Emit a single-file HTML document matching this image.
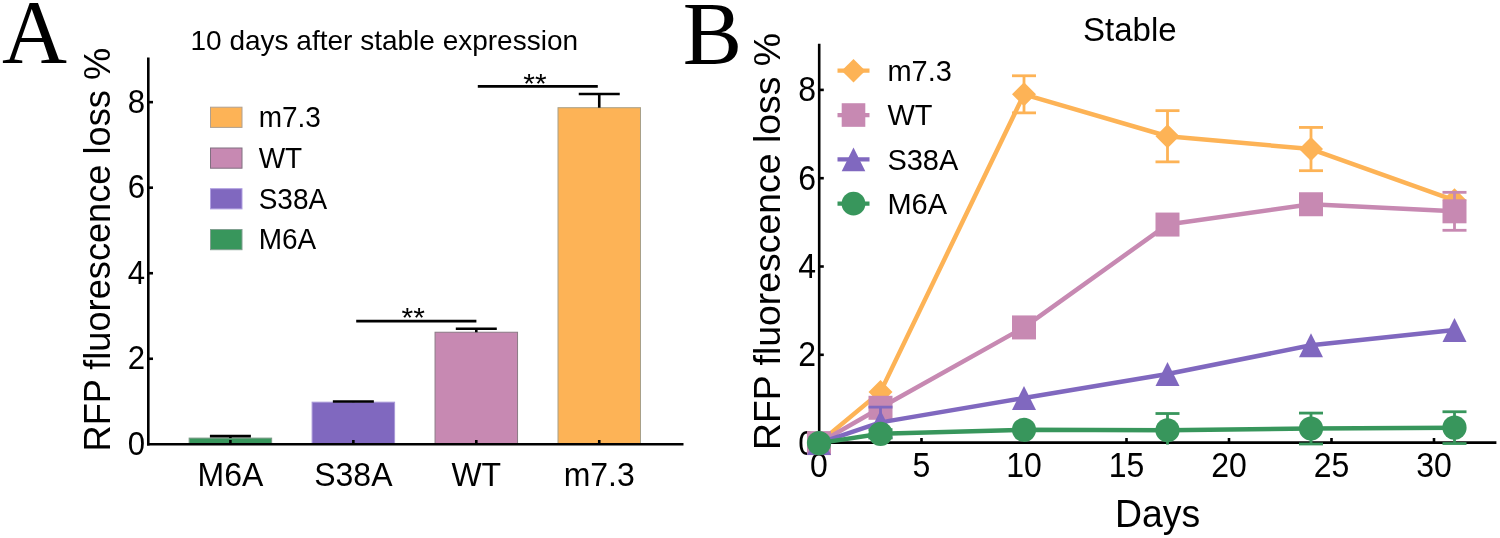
<!DOCTYPE html>
<html><head><meta charset="utf-8"><style>
html,body{margin:0;padding:0;background:#fff;width:1500px;height:538px;overflow:hidden}
svg{display:block;will-change:transform}
text{font-family:"Liberation Sans",sans-serif;fill:#000}
</style></head><body>
<svg width="1500" height="538" viewBox="0 0 1500 538">
<rect width="1500" height="538" fill="#fff"/>
<text transform="translate(2.00,63.00)" font-size="90" style="font-family:&quot;Liberation Serif&quot;,serif">A</text>
<text transform="translate(190.50,50.30)" font-size="28">10 days after stable expression</text>
<text transform="translate(110.30,451.50) rotate(-90)" font-size="36.2">RFP fluorescence loss %</text>
<rect x="189.15" y="438.10" width="82.5" height="6.20" fill="#38965C" stroke="#7a9a85" stroke-width="1"/>
<line x1="230.40" y1="436.17" x2="230.40" y2="438.10" stroke="#000" stroke-width="2.6"/>
<line x1="209.90" y1="436.17" x2="250.90" y2="436.17" stroke="#000" stroke-width="2.6"/>
<rect x="312.10" y="402.17" width="82.5" height="42.13" fill="#8068BF" stroke="#a898d8" stroke-width="1"/>
<line x1="353.35" y1="401.53" x2="353.35" y2="402.17" stroke="#000" stroke-width="2.6"/>
<line x1="332.85" y1="401.53" x2="373.85" y2="401.53" stroke="#000" stroke-width="2.6"/>
<rect x="435.05" y="332.24" width="82.5" height="112.06" fill="#C789B2" stroke="#8a7a85" stroke-width="1"/>
<line x1="476.30" y1="328.82" x2="476.30" y2="332.24" stroke="#000" stroke-width="2.6"/>
<line x1="455.80" y1="328.82" x2="496.80" y2="328.82" stroke="#000" stroke-width="2.6"/>
<rect x="558.00" y="107.70" width="82.5" height="336.60" fill="#FDB356" stroke="#a8a088" stroke-width="1"/>
<line x1="599.25" y1="94.01" x2="599.25" y2="107.70" stroke="#000" stroke-width="2.6"/>
<line x1="578.75" y1="94.01" x2="619.75" y2="94.01" stroke="#000" stroke-width="2.6"/>
<line x1="148.3" y1="57.5" x2="148.3" y2="445.6" stroke="#000" stroke-width="2.6"/>
<line x1="147" y1="444.3" x2="683.5" y2="444.3" stroke="#000" stroke-width="2.6"/>
<text transform="translate(145.00,454.70) scale(0.975,1.06)" font-size="32" text-anchor="end">0</text>
<line x1="148" y1="358.76" x2="153" y2="358.76" stroke="#000" stroke-width="2.6"/>
<text transform="translate(145.00,369.16) scale(0.975,1.06)" font-size="32" text-anchor="end">2</text>
<line x1="148" y1="273.22" x2="153" y2="273.22" stroke="#000" stroke-width="2.6"/>
<text transform="translate(145.00,283.62) scale(0.975,1.06)" font-size="32" text-anchor="end">4</text>
<line x1="148" y1="187.68" x2="153" y2="187.68" stroke="#000" stroke-width="2.6"/>
<text transform="translate(145.00,198.08) scale(0.975,1.06)" font-size="32" text-anchor="end">6</text>
<line x1="148" y1="102.14" x2="153" y2="102.14" stroke="#000" stroke-width="2.6"/>
<text transform="translate(145.00,112.54) scale(0.975,1.06)" font-size="32" text-anchor="end">8</text>
<line x1="230.40" y1="444" x2="230.40" y2="440" stroke="#000" stroke-width="2.6"/>
<text transform="translate(230.40,485.50) scale(1.0,1.045)" font-size="32" text-anchor="middle">M6A</text>
<line x1="353.35" y1="444" x2="353.35" y2="440" stroke="#000" stroke-width="2.6"/>
<text transform="translate(353.35,485.50) scale(1.0,1.045)" font-size="32" text-anchor="middle">S38A</text>
<line x1="476.30" y1="444" x2="476.30" y2="440" stroke="#000" stroke-width="2.6"/>
<text transform="translate(476.30,485.50) scale(1.0,1.045)" font-size="32" text-anchor="middle">WT</text>
<line x1="599.25" y1="444" x2="599.25" y2="440" stroke="#000" stroke-width="2.6"/>
<text transform="translate(599.25,485.50) scale(1.0,1.045)" font-size="32" text-anchor="middle">m7.3</text>
<line x1="356.2" y1="321.2" x2="476.4" y2="321.2" stroke="#000" stroke-width="2.8"/>
<text transform="translate(413.20,327.30) scale(1.07,1.0)" font-size="28" text-anchor="middle">**</text>
<line x1="477.8" y1="86.4" x2="597.8" y2="86.4" stroke="#000" stroke-width="2.8"/>
<text transform="translate(535.00,92.50) scale(1.07,1.0)" font-size="28" text-anchor="middle">**</text>
<rect x="210.5" y="107.20" width="31.5" height="20.2" fill="#FDB356" stroke="#b0a090" stroke-width="1"/>
<text transform="translate(258.70,127.00) scale(1.0,1.045)" font-size="28">m7.3</text>
<rect x="210.5" y="148.00" width="31.5" height="20.2" fill="#C789B2" stroke="#807080" stroke-width="1"/>
<text transform="translate(258.70,167.80) scale(1.0,1.045)" font-size="28">WT</text>
<rect x="210.5" y="188.70" width="31.5" height="20.2" fill="#8068BF" stroke="#b0a0e0" stroke-width="1"/>
<text transform="translate(258.70,208.50) scale(1.0,1.045)" font-size="28">S38A</text>
<rect x="210.5" y="229.50" width="31.5" height="20.2" fill="#38965C" stroke="#80a090" stroke-width="1"/>
<text transform="translate(258.70,249.30) scale(1.0,1.045)" font-size="28">M6A</text>
<text transform="translate(682.80,63.00)" font-size="89" style="font-family:&quot;Liberation Serif&quot;,serif">B</text>
<text transform="translate(1129.80,40.80)" font-size="33" text-anchor="middle">Stable</text>
<text transform="translate(780.30,450.00) rotate(-90)" font-size="37.4">RFP fluorescence loss %</text>
<text transform="translate(1157.50,526.90) scale(1.0,1.015)" font-size="37.4" text-anchor="middle">Days</text>
<line x1="819.2" y1="43.8" x2="819.2" y2="443.9" stroke="#000" stroke-width="2.6"/>
<line x1="818" y1="442.6" x2="1496.4" y2="442.6" stroke="#000" stroke-width="2.6"/>
<text transform="translate(816.00,454.50) scale(1.0,1.08)" font-size="32" text-anchor="end">0</text>
<line x1="819" y1="354.80" x2="823.8" y2="354.80" stroke="#000" stroke-width="2.6"/>
<text transform="translate(816.00,366.20) scale(1.0,1.08)" font-size="32" text-anchor="end">2</text>
<line x1="819" y1="266.50" x2="823.8" y2="266.50" stroke="#000" stroke-width="2.6"/>
<text transform="translate(816.00,277.90) scale(1.0,1.08)" font-size="32" text-anchor="end">4</text>
<line x1="819" y1="178.20" x2="823.8" y2="178.20" stroke="#000" stroke-width="2.6"/>
<text transform="translate(816.00,189.60) scale(1.0,1.08)" font-size="32" text-anchor="end">6</text>
<line x1="819" y1="89.90" x2="823.8" y2="89.90" stroke="#000" stroke-width="2.6"/>
<text transform="translate(816.00,101.30) scale(1.0,1.08)" font-size="32" text-anchor="end">8</text>
<text transform="translate(819.00,477.00) scale(1.0,1.08)" font-size="32" text-anchor="middle">0</text>
<line x1="921.50" y1="442.5" x2="921.50" y2="438" stroke="#000" stroke-width="2.6"/>
<text transform="translate(921.50,477.00) scale(1.0,1.08)" font-size="32" text-anchor="middle">5</text>
<line x1="1024.00" y1="442.5" x2="1024.00" y2="438" stroke="#000" stroke-width="2.6"/>
<text transform="translate(1024.00,477.00) scale(1.0,1.08)" font-size="32" text-anchor="middle">10</text>
<line x1="1126.50" y1="442.5" x2="1126.50" y2="438" stroke="#000" stroke-width="2.6"/>
<text transform="translate(1126.50,477.00) scale(1.0,1.08)" font-size="32" text-anchor="middle">15</text>
<line x1="1229.00" y1="442.5" x2="1229.00" y2="438" stroke="#000" stroke-width="2.6"/>
<text transform="translate(1229.00,477.00) scale(1.0,1.08)" font-size="32" text-anchor="middle">20</text>
<line x1="1331.50" y1="442.5" x2="1331.50" y2="438" stroke="#000" stroke-width="2.6"/>
<text transform="translate(1331.50,477.00) scale(1.0,1.08)" font-size="32" text-anchor="middle">25</text>
<line x1="1434.00" y1="442.5" x2="1434.00" y2="438" stroke="#000" stroke-width="2.6"/>
<text transform="translate(1434.00,477.00) scale(1.0,1.08)" font-size="32" text-anchor="middle">30</text>
<polyline points="819.00,443.10 880.50,391.89 1024.00,94.31 1167.50,136.26 1311.00,149.06 1454.50,200.28" fill="none" stroke="#FDB356" stroke-width="4.5" stroke-linejoin="round"/>
<path d="M819.00 431.10L831.00 443.10L819.00 455.10L807.00 443.10Z" fill="#FDB356"/>
<path d="M880.50 379.89L892.50 391.89L880.50 403.89L868.50 391.89Z" fill="#FDB356"/>
<line x1="1024.00" y1="75.77" x2="1024.00" y2="112.86" stroke="#FDB356" stroke-width="2.8"/>
<line x1="1012.00" y1="75.77" x2="1036.00" y2="75.77" stroke="#FDB356" stroke-width="2.8"/>
<line x1="1012.00" y1="112.86" x2="1036.00" y2="112.86" stroke="#FDB356" stroke-width="2.8"/>
<path d="M1024.00 82.31L1036.00 94.31L1024.00 106.31L1012.00 94.31Z" fill="#FDB356"/>
<line x1="1167.50" y1="110.65" x2="1167.50" y2="161.86" stroke="#FDB356" stroke-width="2.8"/>
<line x1="1155.50" y1="110.65" x2="1179.50" y2="110.65" stroke="#FDB356" stroke-width="2.8"/>
<line x1="1155.50" y1="161.86" x2="1179.50" y2="161.86" stroke="#FDB356" stroke-width="2.8"/>
<path d="M1167.50 124.26L1179.50 136.26L1167.50 148.26L1155.50 136.26Z" fill="#FDB356"/>
<line x1="1311.00" y1="127.43" x2="1311.00" y2="170.69" stroke="#FDB356" stroke-width="2.8"/>
<line x1="1299.00" y1="127.43" x2="1323.00" y2="127.43" stroke="#FDB356" stroke-width="2.8"/>
<line x1="1299.00" y1="170.69" x2="1323.00" y2="170.69" stroke="#FDB356" stroke-width="2.8"/>
<path d="M1311.00 137.06L1323.00 149.06L1311.00 161.06L1299.00 149.06Z" fill="#FDB356"/>
<path d="M1454.50 188.28L1466.50 200.28L1454.50 212.28L1442.50 200.28Z" fill="#FDB356"/>
<polyline points="819.00,443.10 880.50,407.78 1024.00,327.43 1167.50,224.56 1311.00,204.25 1454.50,211.31" fill="none" stroke="#C789B2" stroke-width="4.5" stroke-linejoin="round"/>
<rect x="807.00" y="431.10" width="24" height="24" fill="#C789B2"/>
<rect x="868.50" y="395.78" width="24" height="24" fill="#C789B2"/>
<rect x="1012.00" y="315.43" width="24" height="24" fill="#C789B2"/>
<rect x="1155.50" y="212.56" width="24" height="24" fill="#C789B2"/>
<rect x="1299.00" y="192.25" width="24" height="24" fill="#C789B2"/>
<line x1="1454.50" y1="192.33" x2="1454.50" y2="230.30" stroke="#C789B2" stroke-width="2.8"/>
<line x1="1442.50" y1="192.33" x2="1466.50" y2="192.33" stroke="#C789B2" stroke-width="2.8"/>
<line x1="1442.50" y1="230.30" x2="1466.50" y2="230.30" stroke="#C789B2" stroke-width="2.8"/>
<rect x="1442.50" y="199.31" width="24" height="24" fill="#C789B2"/>
<polyline points="819.00,443.10 880.50,422.35 1024.00,398.07 1167.50,374.01 1311.00,345.31 1454.50,330.08" fill="none" stroke="#8068BF" stroke-width="4.5" stroke-linejoin="round"/>
<path d="M819.00 431.10L831.00 455.10L807.00 455.10Z" fill="#8068BF"/>
<line x1="880.50" y1="407.12" x2="880.50" y2="437.58" stroke="#8068BF" stroke-width="2.8"/>
<line x1="868.50" y1="407.12" x2="892.50" y2="407.12" stroke="#8068BF" stroke-width="2.8"/>
<line x1="868.50" y1="437.58" x2="892.50" y2="437.58" stroke="#8068BF" stroke-width="2.8"/>
<path d="M880.50 410.35L892.50 434.35L868.50 434.35Z" fill="#8068BF"/>
<path d="M1024.00 386.07L1036.00 410.07L1012.00 410.07Z" fill="#8068BF"/>
<path d="M1167.50 362.01L1179.50 386.01L1155.50 386.01Z" fill="#8068BF"/>
<path d="M1311.00 333.31L1323.00 357.31L1299.00 357.31Z" fill="#8068BF"/>
<path d="M1454.50 318.08L1466.50 342.08L1442.50 342.08Z" fill="#8068BF"/>
<polyline points="819.00,443.10 880.50,433.83 1024.00,429.86 1167.50,430.30 1311.00,428.53 1454.50,427.65" fill="none" stroke="#38965C" stroke-width="4.5" stroke-linejoin="round"/>
<circle cx="819.00" cy="443.10" r="12.10" fill="#38965C"/>
<line x1="880.50" y1="429.63" x2="880.50" y2="438.02" stroke="#38965C" stroke-width="2.8"/>
<line x1="868.50" y1="429.63" x2="892.50" y2="429.63" stroke="#38965C" stroke-width="2.8"/>
<line x1="868.50" y1="438.02" x2="892.50" y2="438.02" stroke="#38965C" stroke-width="2.8"/>
<circle cx="880.50" cy="433.83" r="12.10" fill="#38965C"/>
<circle cx="1024.00" cy="429.86" r="12.10" fill="#38965C"/>
<line x1="1167.50" y1="413.52" x2="1167.50" y2="444.60" stroke="#38965C" stroke-width="2.8"/>
<line x1="1155.50" y1="413.52" x2="1179.50" y2="413.52" stroke="#38965C" stroke-width="2.8"/>
<circle cx="1167.50" cy="430.30" r="12.10" fill="#38965C"/>
<line x1="1311.00" y1="413.08" x2="1311.00" y2="443.98" stroke="#38965C" stroke-width="2.8"/>
<line x1="1299.00" y1="413.08" x2="1323.00" y2="413.08" stroke="#38965C" stroke-width="2.8"/>
<line x1="1299.00" y1="443.98" x2="1323.00" y2="443.98" stroke="#38965C" stroke-width="2.8"/>
<circle cx="1311.00" cy="428.53" r="12.10" fill="#38965C"/>
<line x1="1454.50" y1="411.75" x2="1454.50" y2="443.54" stroke="#38965C" stroke-width="2.8"/>
<line x1="1442.50" y1="411.75" x2="1466.50" y2="411.75" stroke="#38965C" stroke-width="2.8"/>
<line x1="1442.50" y1="443.54" x2="1466.50" y2="443.54" stroke="#38965C" stroke-width="2.8"/>
<circle cx="1454.50" cy="427.65" r="12.10" fill="#38965C"/>
<line x1="837.5" y1="70.70" x2="869.5" y2="70.70" stroke="#FDB356" stroke-width="4.2"/>
<path d="M853.50 58.90L865.30 70.70L853.50 82.50L841.70 70.70Z" fill="#FDB356"/>
<text transform="translate(887.40,81.10) scale(1.0,1.045)" font-size="29">m7.3</text>
<line x1="837.5" y1="115.03" x2="869.5" y2="115.03" stroke="#C789B2" stroke-width="4.2"/>
<rect x="841.70" y="103.23" width="23.6" height="23.6" fill="#C789B2"/>
<text transform="translate(887.40,125.43) scale(1.0,1.045)" font-size="29">WT</text>
<line x1="837.5" y1="159.36" x2="869.5" y2="159.36" stroke="#8068BF" stroke-width="4.2"/>
<path d="M853.50 147.56L865.30 171.16L841.70 171.16Z" fill="#8068BF"/>
<text transform="translate(887.40,169.76) scale(1.0,1.045)" font-size="29">S38A</text>
<line x1="837.5" y1="203.69" x2="869.5" y2="203.69" stroke="#38965C" stroke-width="4.2"/>
<circle cx="853.50" cy="203.69" r="11.90" fill="#38965C"/>
<text transform="translate(887.40,214.09) scale(1.0,1.045)" font-size="29">M6A</text>
</svg>
</body></html>
